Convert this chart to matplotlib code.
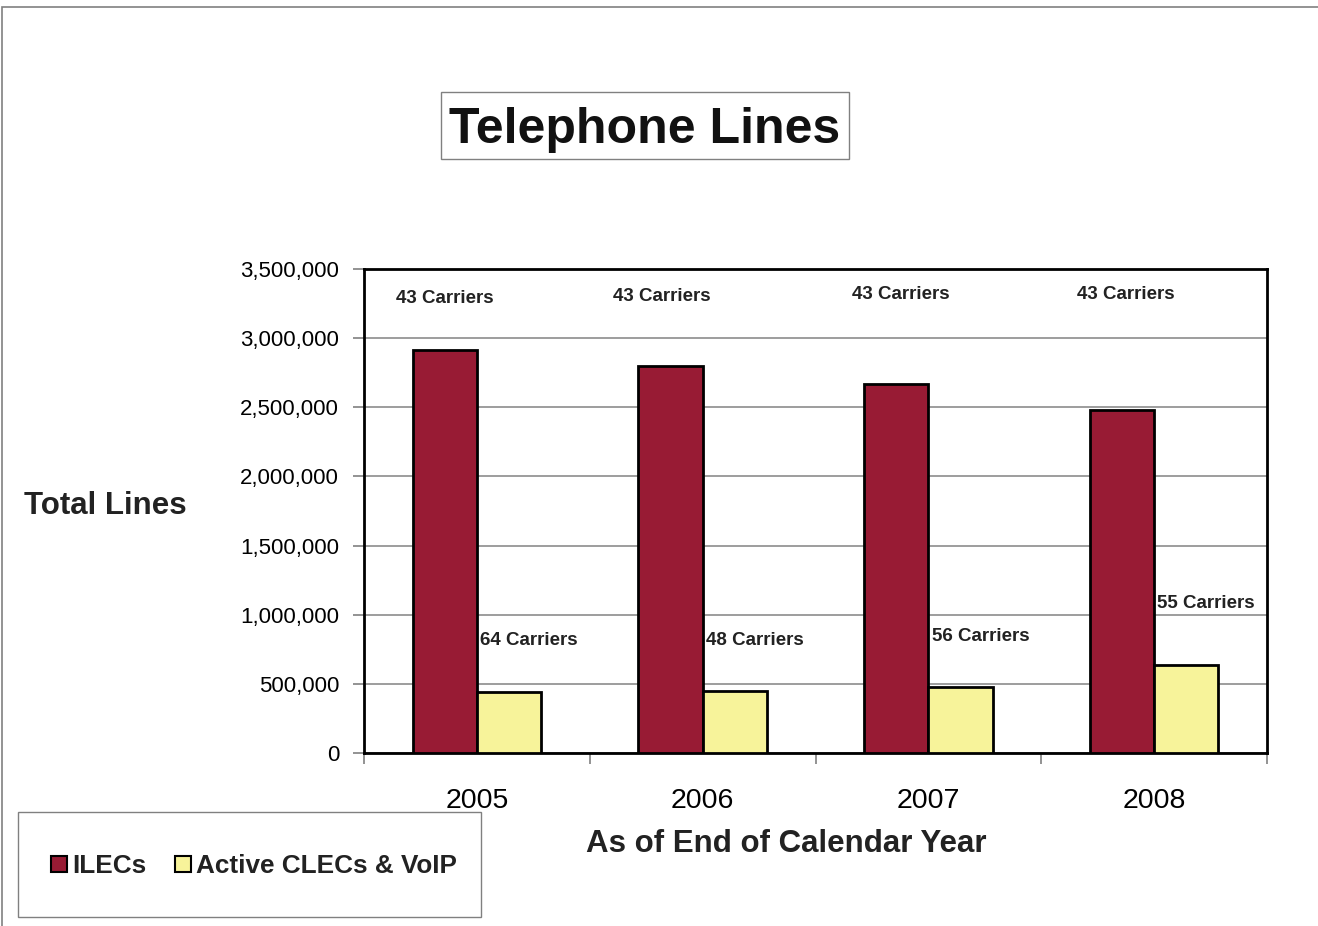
import numpy as np
import matplotlib
matplotlib.use('Agg')
import matplotlib.pyplot as plt
from matplotlib.patches import Rectangle, Patch
from matplotlib.ticker import FuncFormatter, MultipleLocator

plt.rcParams['font.family'] = ['Liberation Sans', 'DejaVu Sans']

# ── Data ────────────────────────────────────────────────────────────────────
years = ['2005', '2006', '2007', '2008']
ilec_lines = [2915000, 2800000, 2668000, 2480000]
clec_lines = [441000, 448000, 477000, 636000]
ilec_carriers = [43, 43, 43, 43]
clec_carriers = [64, 48, 56, 55]

# label placement (data coords, relative to category centre)
ilec_lbl_dx = [-0.14, -0.18, -0.12, -0.125]
ilec_lbl_y = [3290000, 3298000, 3312000, 3312000]
clec_lbl_dx = [0.014, 0.015, 0.016, 0.013]
clec_lbl_y = [817000, 817000, 839000, 1078000]

c_ilec = '#981B34'
c_clec = '#F7F39A'

W, H = 1318, 926
fig = plt.figure(figsize=(W / 100, H / 100), dpi=100)

# page border (top + left edges)
fig.patches.append(Rectangle((2 / W, -0.1), 1.2, 1 - 7 / H + 0.1, transform=fig.transFigure,
                             fill=False, ec='#808080', lw=1.2))

ax = fig.add_axes([364 / W, 1 - 753 / H, (1267 - 364) / W, (753 - 269) / H])
x = np.arange(len(years))
bw = 0.285
ax.bar(x - bw / 2, ilec_lines, bw, color=c_ilec, edgecolor='black', linewidth=2, zorder=3)
ax.bar(x + bw / 2, clec_lines, bw, color=c_clec, edgecolor='black', linewidth=2, zorder=3)

for i in range(len(years)):
    ax.text(x[i] + ilec_lbl_dx[i], ilec_lbl_y[i], f'{ilec_carriers[i]} Carriers',
            ha='center', va='center', fontsize=13.5, fontweight='bold', color='#222222')
    ax.text(x[i] + clec_lbl_dx[i], clec_lbl_y[i], f'{clec_carriers[i]} Carriers',
            ha='left', va='center', fontsize=13.5, fontweight='bold', color='#222222')

ax.set_xlim(-0.5, len(years) - 0.5)
ax.set_ylim(0, 3500000)
ax.yaxis.set_major_locator(MultipleLocator(500000))
ax.yaxis.set_major_formatter(FuncFormatter(lambda v, p: f'{int(v):,}'))
ax.grid(axis='y', color='#8c8c8c', lw=1.2, zorder=0)
ax.set_axisbelow(True)

ax.set_xticks(x)
ax.set_xticklabels(years, fontsize=20.5)
ax.set_xticks(np.arange(-0.5, len(years)), minor=True)
ax.tick_params(axis='x', which='major', length=0, pad=25)
ax.tick_params(axis='x', which='minor', length=8, color='#808080', width=1.2)
ax.tick_params(axis='y', length=8, color='#808080', width=1.2, labelsize=16, pad=10)
for s in ax.spines.values():
    s.set_linewidth(2)
    s.set_color('black')

fig.text(786 / W, 1 - 844 / H, 'As of End of Calendar Year', ha='center', va='center',
         fontsize=22.5, fontweight='bold', color='#222222')
fig.text(24 / W, 1 - 506 / H, 'Total Lines', ha='left', va='center',
         fontsize=22.5, fontweight='bold', color='#222222')

# title in a box
fig.patches.append(Rectangle((441 / W, 1 - 159 / H), (849 - 441) / W, (159 - 92) / H,
                             transform=fig.transFigure, fill=False, ec='#808080', lw=1))
fig.text(645 / W, 1 - 130 / H, 'Telephone Lines', ha='center', va='center',
         fontsize=36, fontweight='bold', color='#111111')

# legend box
fig.patches.append(Rectangle((18 / W, 1 - 917 / H), (481 - 18) / W, (917 - 812) / H,
                             transform=fig.transFigure, fill=False, ec='#808080', lw=1))
handles = [Patch(facecolor=c_ilec, edgecolor='black', lw=1.5, label='ILECs'),
           Patch(facecolor=c_clec, edgecolor='black', lw=1.5, label='Active CLECs & VoIP')]
leg = fig.legend(handles=handles, loc='center', bbox_to_anchor=(254 / W, 1 - 866 / H),
                 ncol=2, frameon=False, handlelength=0.6, handleheight=0.6,
                 handletextpad=0.2, columnspacing=1.1,
                 prop={'size': 18.8, 'weight': 'bold'})
for t in leg.get_texts():
    t.set_color('#222222')

fig.savefig('out.png', dpi=100)
